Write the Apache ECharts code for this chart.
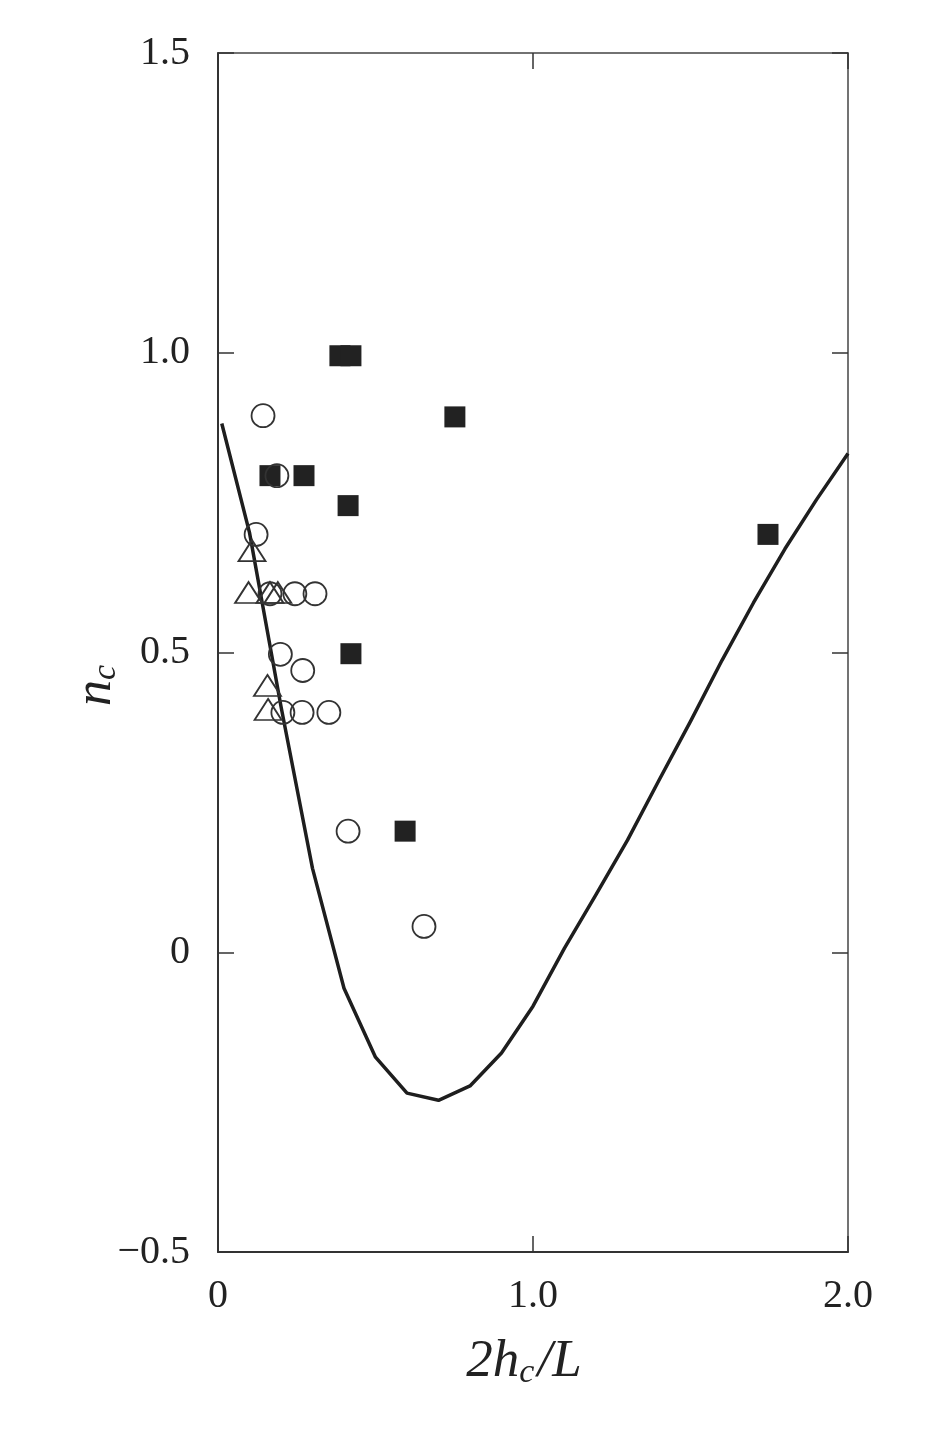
<!DOCTYPE html>
<html>
<head>
<meta charset="utf-8">
<script src="https://cdn.jsdelivr.net/npm/echarts@6/dist/echarts.min.js"></script>
<style>
html,body{margin:0;padding:0;background:#fff;}
#chart{width:933px;height:1438px;}
</style>
</head>
<body>
<div id="chart"></div>
<script>
// Theory curve
const lineX = [0.012, 0.1, 0.2, 0.3, 0.4, 0.5, 0.6, 0.7, 0.8, 0.9, 1.0, 1.1, 1.2, 1.3, 1.4, 1.5, 1.6, 1.7, 1.8, 1.9, 2.0];
const lineY = [0.882, 0.70, 0.41, 0.14, -0.06, -0.175, -0.235, -0.247, -0.223, -0.168, -0.09, 0.007, 0.096, 0.187, 0.287, 0.385, 0.487, 0.583, 0.673, 0.755, 0.832];
// Filled squares
const squareX = [0.387, 0.422, 0.752, 0.165, 0.273, 0.413, 0.422, 0.594, 1.746];
const squareY = [0.995, 0.995, 0.893, 0.795, 0.795, 0.745, 0.498, 0.202, 0.697];
// Open circles
const circleX = [0.143, 0.187, 0.121, 0.165, 0.244, 0.308, 0.198, 0.269, 0.206, 0.267, 0.352, 0.413, 0.654];
const circleY = [0.895, 0.795, 0.697, 0.598, 0.598, 0.598, 0.497, 0.470, 0.400, 0.400, 0.400, 0.202, 0.043];
// Open triangles
const triX = [0.108, 0.097, 0.165, 0.19, 0.157, 0.159];
const triY = [0.670, 0.600, 0.600, 0.600, 0.445, 0.405];
// Tick labels
const xTickLabels = {0: '0', 1: '1.0', 2: '2.0'};
const yTickLabels = {'1.5': '1.5', '1': '1.0', '0.5': '0.5', '0': '0', '-0.5': '\u22120.5'};

const zip = (a, b) => a.map((v, i) => [v, b[i]]);
const serif = '"Liberation Serif", "DejaVu Serif", serif';
const ink = '#222';

const chart = echarts.init(document.getElementById('chart'), null, {renderer: 'canvas'});
chart.setOption({
  animation: false,
  backgroundColor: '#fff',
  grid: {left: 218, top: 53, width: 630, height: 1199, containLabel: false},
  xAxis: [
    {
      type: 'value', min: 0, max: 2, interval: 1, position: 'bottom',
      axisLine: {show: true, onZero: false, lineStyle: {color: '#333', width: 2}},
      axisTick: {show: true, inside: true, length: 16, lineStyle: {color: '#333', width: 1.5}},
      axisLabel: {show: true, inside: false, margin: 24, fontFamily: serif, fontSize: 40, color: ink,
        formatter: v => xTickLabels[v] !== undefined ? xTickLabels[v] : ''},
      splitLine: {show: false},
      name: '{a|2h}{s|c}{a|/L}',
      nameLocation: 'middle', nameGap: 82, nameMoveOverlap: false,
      nameTextStyle: {
        padding: [0, 18, 0, 0],
        rich: {
          a: {fontFamily: serif, fontStyle: 'italic', fontSize: 53, color: ink, lineHeight: 56},
          s: {fontFamily: serif, fontStyle: 'italic', fontSize: 34, color: ink, verticalAlign: 'bottom', padding: [14, 3, 0, 0]}
        }
      }
    },
    {
      type: 'value', min: 0, max: 2, interval: 1, position: 'top',
      axisLine: {show: true, onZero: false, lineStyle: {color: '#444', width: 1.5}},
      axisTick: {show: true, inside: true, length: 16, lineStyle: {color: '#333', width: 1.5}},
      axisLabel: {show: false},
      splitLine: {show: false}
    }
  ],
  yAxis: [
    {
      type: 'value', min: -0.5, max: 1.5, interval: 0.5, position: 'left',
      axisLine: {show: true, onZero: false, lineStyle: {color: '#333', width: 2}},
      axisTick: {show: true, inside: true, length: 16, lineStyle: {color: '#333', width: 1.5}},
      axisLabel: {show: true, inside: false, margin: 28, fontFamily: serif, fontSize: 40, color: ink,
        formatter: v => { const k = String(Math.round(v * 10) / 10); return yTickLabels[k] !== undefined ? yTickLabels[k] : ''; }},
      splitLine: {show: false},
      name: '{a|n}{s|c}',
      nameLocation: 'middle', nameRotate: 90, nameGap: 95, nameMoveOverlap: false,
      nameTextStyle: {
        padding: [0, 66, 0, 0],
        rich: {
          a: {fontFamily: serif, fontStyle: 'italic', fontSize: 52, color: ink, lineHeight: 54},
          s: {fontFamily: serif, fontStyle: 'italic', fontSize: 34, color: ink, verticalAlign: 'bottom', padding: [10, 0, 0, 0]}
        }
      }
    },
    {
      type: 'value', min: -0.5, max: 1.5, interval: 0.5, position: 'right',
      axisLine: {show: true, onZero: false, lineStyle: {color: '#444', width: 1.5}},
      axisTick: {show: true, inside: true, length: 16, lineStyle: {color: '#333', width: 1.5}},
      axisLabel: {show: false},
      splitLine: {show: false}
    }
  ],
  series: [
    {
      type: 'line', xAxisIndex: 0, yAxisIndex: 0,
      data: zip(lineX, lineY), showSymbol: false, symbol: 'none', smooth: false,
      lineStyle: {color: '#1e1e1e', width: 3.5, join: 'round'},
      emphasis: {disabled: true}, silent: true, z: 3
    },
    {
      type: 'scatter', xAxisIndex: 0, yAxisIndex: 0,
      data: zip(squareX, squareY), symbol: 'rect', symbolSize: 21,
      itemStyle: {color: '#222', opacity: 1},
      emphasis: {disabled: true}, silent: true, z: 2
    },
    {
      type: 'scatter', xAxisIndex: 0, yAxisIndex: 0,
      data: zip(circleX, circleY), symbol: 'circle', symbolSize: 23,
      itemStyle: {color: 'rgba(255,255,255,0)', borderColor: '#333', borderWidth: 1.8, opacity: 1},
      emphasis: {disabled: true}, silent: true, z: 4
    },
    {
      type: 'scatter', xAxisIndex: 0, yAxisIndex: 0,
      data: zip(triX, triY), symbol: 'triangle', symbolSize: [27, 21],
      itemStyle: {color: 'rgba(255,255,255,0)', borderColor: '#333', borderWidth: 1.8, opacity: 1},
      emphasis: {disabled: true}, silent: true, z: 4
    }
  ]
});
</script>
</body>
</html>
